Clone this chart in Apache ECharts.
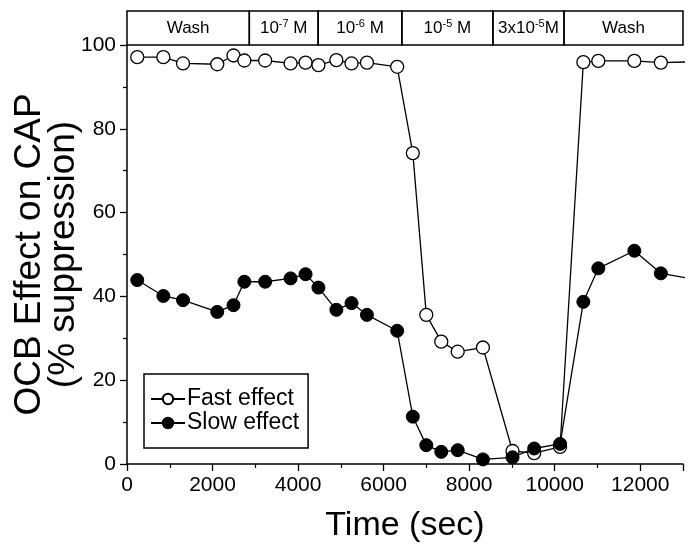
<!DOCTYPE html>
<html>
<head>
<meta charset="utf-8">
<script src="https://cdn.jsdelivr.net/npm/echarts@6/dist/echarts.min.js"></script>
<style>html,body{margin:0;padding:0;background:#fff;}#c{width:689px;height:544px;}</style>
</head>
<body>
<div id="c"></div>
<script>
// Data
var times = [240, 850, 1310, 2110, 2490, 2744, 3230, 3825, 4175, 4476, 4895, 5250, 5610, 6317, 6683, 6998, 7348, 7732, 8322, 9014, 9520, 10126, 10670, 11020, 11862, 12482, 13300];
var fastEffect = [97.1, 97.1, 95.6, 95.4, 97.5, 96.3, 96.3, 95.6, 95.8, 95.2, 96.4, 95.6, 95.8, 94.8, 74.2, 35.6, 29.2, 26.8, 27.8, 3.1, 2.6, 4.1, 95.9, 96.2, 96.2, 95.8, 96.0];
var slowEffect = [43.9, 40.1, 39.1, 36.3, 37.9, 43.5, 43.5, 44.3, 45.3, 42.1, 36.8, 38.4, 35.6, 31.8, 11.3, 4.5, 2.9, 3.3, 1.1, 1.6, 3.7, 4.8, 38.7, 46.7, 50.9, 45.5, 44.0];
var bandEdges = [0, 2860, 4469, 6427, 8555, 10219, 13000];
var bandLabels = ['Wash', '10{sup|-7} M', '10{sup|-6} M', '10{sup|-5} M', '3x10{sup|-5}M', 'Wash'];
var xTickStep = 2000;
var yTickStep = 20;

var FONT = 'Liberation Sans, Arial, Helvetica, sans-serif';
function pairs(xs, ys) { return xs.map(function (x, i) { return [x, ys[i]]; }); }

var bandAreas = [];
for (var i = 0; i < bandLabels.length; i++) {
  bandAreas.push([
    { xAxis: bandEdges[i], yAxis: 0, name: bandLabels[i] },
    { xAxis: bandEdges[i + 1], yAxis: 1 }
  ]);
}

var chart = echarts.init(document.getElementById('c'), null, { renderer: 'canvas' });
chart.setOption({
  animation: false,
  backgroundColor: '#fff',
  textStyle: { fontFamily: FONT, color: '#000' },
  grid: [
    { left: 127, right: 6, top: 45, bottom: 80, containLabel: false, outerBoundsMode: 'none' },
    { left: 127, right: 6, top: 11, height: 34, containLabel: false, outerBoundsMode: 'none' }
  ],
  xAxis: [{
    type: 'value', min: 0, max: 13000, interval: xTickStep,
    name: 'Time (sec)', nameLocation: 'middle', nameGap: 45, nameMoveOverlap: false,
    nameTextStyle: { fontSize: 34, color: '#000', fontFamily: FONT },
    axisLine: { show: true, lineStyle: { color: '#000', width: 1.5 } },
    axisTick: { show: true, length: 7, lineStyle: { color: '#000', width: 1.3 } },
    minorTick: { show: true, splitNumber: 2, length: 4, lineStyle: { color: '#000', width: 1.2 } },
    axisLabel: { fontSize: 21, color: '#000', margin: 11, fontFamily: FONT,
      formatter: function (v) { return v % xTickStep === 0 ? String(v) : ''; } },
    splitLine: { show: false }, minorSplitLine: { show: false }
  }, {
    gridIndex: 1, type: 'value', min: 0, max: 13000, show: false
  }],
  yAxis: [{
    type: 'value', min: 0, max: 100, interval: yTickStep,
    name: 'OCB Effect on CAP\n(% suppression)', nameLocation: 'middle', nameGap: 46, nameMoveOverlap: false,
    nameTextStyle: { fontSize: 37, lineHeight: 34, color: '#000', fontFamily: FONT },
    axisLine: { show: true, lineStyle: { color: '#000', width: 1.5 } },
    axisTick: { show: true, length: 7, lineStyle: { color: '#000', width: 1.3 } },
    minorTick: { show: true, splitNumber: 2, length: 4, lineStyle: { color: '#000', width: 1.2 } },
    axisLabel: { fontSize: 21, color: '#000', margin: 11, fontFamily: FONT,
      formatter: function (v) { return String(v); } },
    splitLine: { show: false }, minorSplitLine: { show: false }
  }, {
    gridIndex: 1, type: 'value', min: 0, max: 1, show: false
  }],
  legend: {
    orient: 'vertical', left: 144, top: 374,
    data: ['Fast effect', 'Slow effect'],
    itemWidth: 34, itemHeight: 13, itemGap: 0,
    borderColor: '#000', borderWidth: 1.5, borderRadius: 0,
    padding: [13, 9, 13, 6],
    textStyle: { fontSize: 23, lineHeight: 24, color: '#000', fontFamily: FONT, padding: [0, 0, 0, -3] }
  },
  series: [{
    name: 'Fast effect', type: 'line', xAxisIndex: 0, yAxisIndex: 0,
    data: pairs(times, fastEffect), clip: true,
    symbol: 'circle', symbolSize: 13,
    itemStyle: { color: '#fff', borderColor: '#000', borderWidth: 1.3 },
    lineStyle: { color: '#000', width: 1.3 }, z: 2
  }, {
    name: 'Slow effect', type: 'line', xAxisIndex: 0, yAxisIndex: 0,
    data: pairs(times, slowEffect), clip: true,
    symbol: 'circle', symbolSize: 13,
    itemStyle: { color: '#000', borderColor: '#000', borderWidth: 1 },
    lineStyle: { color: '#000', width: 1.3 }, z: 3
  }, {
    name: 'band', type: 'line', xAxisIndex: 1, yAxisIndex: 1, data: [],
    silent: true,
    markArea: {
      silent: true,
      itemStyle: { color: 'rgba(0,0,0,0)', borderColor: '#000', borderWidth: 1.5 },
      label: {
        show: true, position: 'inside', color: '#000', fontFamily: FONT,
        fontSize: 17, lineHeight: 20,
        formatter: function (p) { return p.name; },
        rich: {
          sup: { fontSize: 11, lineHeight: 20, verticalAlign: 'top', padding: [0, 0, 6, 0], color: '#000', fontFamily: FONT }
        }
      },
      data: bandAreas
    }
  }]
});
</script>
</body>
</html>
